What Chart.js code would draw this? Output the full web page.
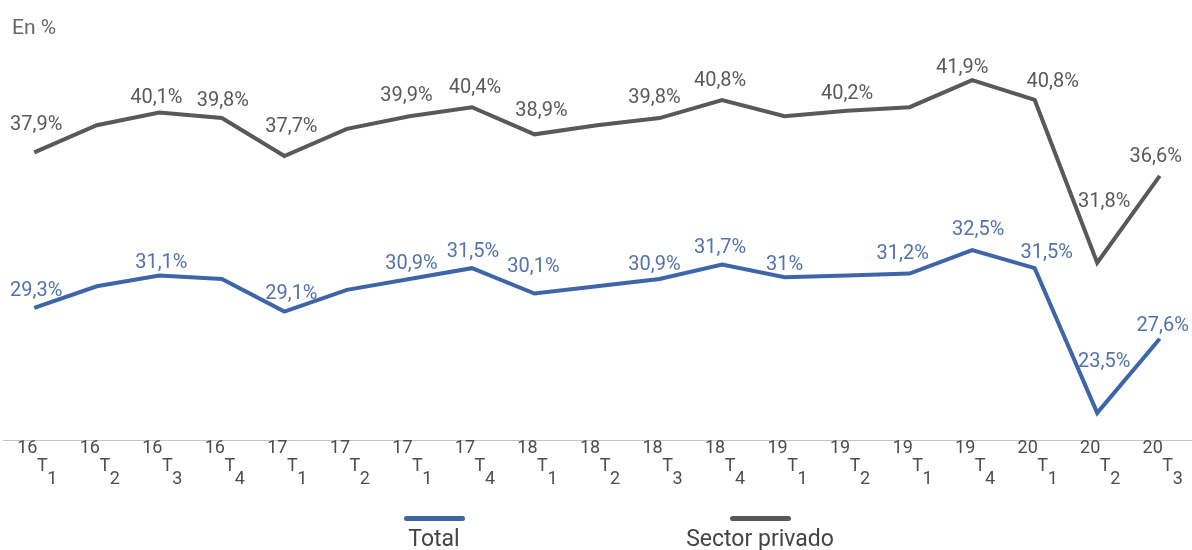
<!DOCTYPE html>
<html>
<head>
<meta charset="utf-8">
<script src="https://cdn.jsdelivr.net/npm/chart.js@4.4.1/dist/chart.umd.min.js"></script>
<style>
  body { margin: 0; background: #fff; font-family: Roboto, "Noto Sans", sans-serif; }
  #wrap { position: relative; width: 1192px; height: 550px; overflow: hidden; }
  #unit { position: absolute; left: 12px; top: 15px; font-size: 21px; color: #666; }
  .leg { position: absolute; top: 516px; text-align: center; font-size: 23px; line-height: 24px; }
  .leg .swatch { height: 5px; border-radius: 3px; margin: 0 auto 6px; }
</style>
</head>
<body>
<div id="wrap">
  <canvas id="chart" width="1192" height="550"></canvas>
  <div id="unit">En %</div>
  <div id="legend"></div>
</div>
<script>
// Data
const years    = ['16','16','16','16','17','17','17','17','18','18','18','18','19','19','19','19','20','20','20'];
const quarters = ['1','2','3','4','1','2','1','4','1','2','3','4','1','2','1','4','1','2','3'];
const seriesNames = ['Total', 'Sector privado'];
const totalValues   = [29.3, 30.5, 31.1, 30.9, 29.1, 30.3, 30.9, 31.5, 30.1, 30.5, 30.9, 31.7, 31, 31.1, 31.2, 32.5, 31.5, 23.5, 27.6];
const privadoValues = [37.9, 39.4, 40.1, 39.8, 37.7, 39.2, 39.9, 40.4, 38.9, 39.4, 39.8, 40.8, 39.9, 40.2, 40.4, 41.9, 40.8, 31.8, 36.6];
// which points carry a value label
const totalShown   = [0, 2, 4, 6, 7, 8, 10, 11, 12, 14, 15, 16, 17, 18];
const privadoShown = [0, 2, 3, 4, 6, 7, 8, 10, 11, 13, 15, 16, 17, 18];

// label placement relative to the point [dx, dy]
const totalShift = {0:[2,-17], 2:[2,-12], 4:[7,-18], 6:[2,-15], 7:[1,-16], 8:[-1,-26], 10:[-5,-14], 11:[-2,-17],
  12:[0,-12], 14:[-7,-20], 15:[6,-20], 16:[12,-15], 17:[7,-51], 18:[3,-13]};
const privadoShift = {0:[2,-27], 2:[-3,-15], 3:[1,-17], 4:[7,-29], 6:[-3,-20], 7:[3,-19], 8:[7,-23], 10:[-5,-20],
  11:[-2,-19], 13:[0,-17], 15:[-10,-12], 16:[18,-18], 17:[7,-61], 18:[-4,-19]};

const BLUE = '#3d65a8', BLUE_TXT = '#5273ad';
const GREY = '#595959', GREY_TXT = '#5a5a5a';

const fmt = v => String(v).replace('.', ',') + '%';

// Value labels
const valueLabels = {
  id: 'valueLabels',
  afterDatasetsDraw(chart) {
    const ctx = chart.ctx;
    ctx.save();
    ctx.font = '20px Roboto';
    ctx.textAlign = 'center';
    ctx.textBaseline = 'middle';
    chart.data.datasets.forEach((ds, di) => {
      const meta = chart.getDatasetMeta(di);
      ctx.fillStyle = ds.labelColor;
      ds.shown.forEach(i => {
        const pt = meta.data[i];
        const s = ds.shift[i] || [0, -18];
        ctx.fillText(fmt(ds.data[i]), pt.x + s[0], pt.y + s[1]);
      });
    });
    ctx.restore();
  }
};

// Two-level x tick labels: year, then T with quarter as subscript
const quarterTicks = {
  id: 'quarterTicks',
  afterDraw(chart) {
    const ctx = chart.ctx, xs = chart.scales.x;
    ctx.save();
    ctx.fillStyle = '#4d4d4d';
    ctx.font = '18px Roboto';
    ctx.textAlign = 'center';
    ctx.textBaseline = 'middle';
    years.forEach((y, i) => {
      const x = xs.getPixelForValue(i);
      ctx.fillText(y, x - 7, 448);
      ctx.fillText('T', x + 8, 466);
      ctx.fillText(quarters[i], x + 18, 479);
    });
    ctx.restore();
  }
};

const chart = new Chart(document.getElementById('chart'), {
  type: 'line',
  data: {
    labels: years.map((y, i) => y + ' T' + quarters[i]),
    datasets: [
      { label: seriesNames[0], data: totalValues, borderColor: BLUE, labelColor: BLUE_TXT, shown: totalShown, shift: totalShift },
      { label: seriesNames[1], data: privadoValues, borderColor: GREY, labelColor: GREY_TXT, shown: privadoShown, shift: privadoShift }
    ].map(d => Object.assign(d, { borderWidth: 4, pointRadius: 0, tension: 0, fill: false, borderJoinStyle: 'miter' }))
  },
  options: {
    responsive: false,
    animation: false,
    layout: { padding: { top: 24, bottom: 102, left: 3, right: 1 } },
    scales: {
      x: {
        offset: true,
        ticks: { display: false },
        grid: { display: false },
        border: { display: true, color: '#c4c4c4', width: 1 }
      },
      y: { display: false, min: 22, max: 45 }
    },
    plugins: { legend: { display: false }, tooltip: { enabled: false } }
  },
  plugins: [valueLabels, quarterTicks]
});

// Legend: line sample above the series name
const legendSpots = [434, 760];
document.getElementById('legend').innerHTML = chart.data.datasets.map((d, i) => `
  <div class="leg" style="left:${legendSpots[i] - 90}px;width:180px;color:#444">
    <div class="swatch" style="width:61px;background:${d.borderColor}"></div>${d.label}
  </div>`).join('');
</script>
</body>
</html>
